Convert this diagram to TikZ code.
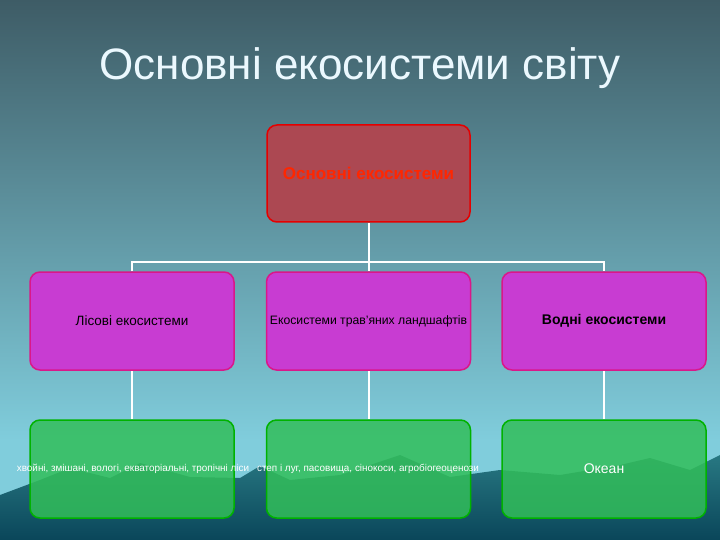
\documentclass[tikz,border=0pt]{standalone}
\usepackage{fontspec}
\setmainfont{Liberation Sans}
\usetikzlibrary{backgrounds}
\definecolor{bgtop}{RGB}{62,92,102}
\definecolor{bgbot}{RGB}{128,205,220}
\definecolor{mtop}{RGB}{40,120,130}
\definecolor{mbot}{RGB}{10,70,90}
\definecolor{redfill}{RGB}{172,72,82}
\definecolor{magfill}{RGB}{200,60,210}
\definecolor{grnfill}{RGB}{50,190,90}
\begin{document}
\begin{tikzpicture}[x=1pt,y=-1pt,
 redbox/.style={draw=red!90!black,line width=1.5pt,fill=redfill,rounded corners=10pt,minimum width=203pt,minimum height=97pt,inner sep=0pt},
 magbox/.style={draw=magenta!80!violet,line width=1.5pt,fill=magfill,rounded corners=10pt,minimum width=204pt,minimum height=98pt,inner sep=0pt},
 grnbox/.style={draw=green!70!black,line width=1.5pt,fill=grnfill,fill opacity=0.85,text opacity=1,rounded corners=10pt,minimum width=204pt,minimum height=98pt},
 conn/.style={draw=white,line width=2pt}]
\useasboundingbox (0,0) rectangle (720,540);
\node at (360,68) {\color{white!92!cyan}\fontsize{44}{48}\selectfont Основні екосистеми світу};
\node[redbox] (top) at (368.5,173.5) {\color{red!70!orange}\bfseries\fontsize{17}{18}\selectfont Основні екосистеми};
\node[magbox] (m1) at (132,321) {\fontsize{13.5}{15}\selectfont Лісові екосистеми};
\node[magbox] (m2) at (368.5,321) {\fontsize{12.2}{15}\selectfont Екосистеми трав'яних ландшафтів};
\node[magbox] (m3) at (604,321) {\bfseries\fontsize{14}{16}\selectfont Водні екосистеми};
\node[grnbox] (b1) at (132,469) {};
\node[grnbox] (b2) at (368.5,469) {};
\node[grnbox] (b3) at (604,469) {};
\node[text=white] (t1) at (133,469) {\fontsize{9.9}{11}\selectfont хвойні, змішані, вологі, екваторіальні, тропічні ліси};
\node[text=white] (t2) at (368,469) {\fontsize{9.9}{11}\selectfont степ і луг, пасовища, сінокоси, агробіогеоценози};
\node[text=white] (t3) at (604,469) {\fontsize{14}{16}\selectfont Океан};
\begin{pgfonlayer}{background}
\shade[top color=bgtop,bottom color=bgbot] (0,0) rectangle (720,440);
\fill[bgbot] (0,440) rectangle (720,540);
\shade[top color=mtop,bottom color=mbot]
 (0,495) -- (40,480) -- (70,468) -- (110,478) -- (140,463) -- (190,477) -- (240,478) -- (260,466) -- (290,480) -- (340,475) -- (400,455) -- (450,477) -- (500,470) -- (560,475) -- (620,465) -- (650,458) -- (690,470) -- (720,455) -- (720,540) -- (0,540) -- cycle;
\coordinate (j) at (368.5,262);
\draw[conn] (top.south) -- (j);
\draw[conn] (m1.north) |- (j) -| (m3.north);
\draw[conn] (j) -- (m2.north);
\draw[conn] (m1) -- (b1);
\draw[conn] (m2) -- (b2);
\draw[conn] (m3) -- (b3);
\end{pgfonlayer}
\end{tikzpicture}
\end{document}
